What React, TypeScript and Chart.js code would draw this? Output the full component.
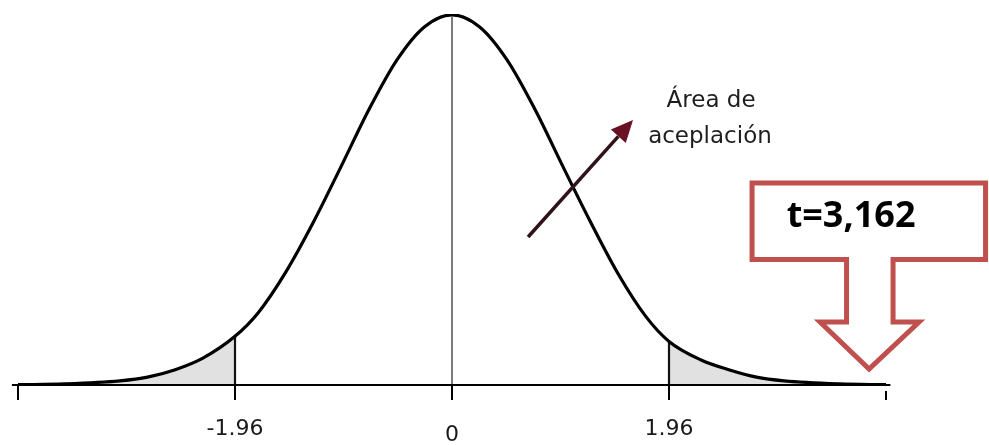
import React, { useEffect, useRef } from "react";
import { Chart, registerables } from "chart.js";

Chart.register(...registerables);

// Normal-like curve (x in z units, y as density)
const CURVE_X = [-3.92, -3.5, -3.0, -2.75, -2.5, -2.25, -1.96, -1.75, -1.5, -1.25, -1.0, -0.75, -0.5, -0.25, 0, 0.25, 0.5, 0.75, 1.0, 1.25, 1.5, 1.75, 1.96, 2.25, 2.5, 2.75, 3.0, 3.5, 3.92];
const CURVE_Y = [0.0003, 0.0012, 0.0045, 0.0085, 0.0165, 0.029, 0.0525, 0.078, 0.122, 0.176, 0.236, 0.297, 0.35, 0.386, 0.399, 0.386, 0.35, 0.297, 0.236, 0.176, 0.12, 0.074, 0.047, 0.027, 0.0165, 0.0085, 0.0045, 0.0012, 0.0003];

// Critical values and the height of their vertical markers
const CRIT_X = [-1.96, 0, 1.96];
const CRIT_Y = [0.0525, 0.397, 0.047];

// Axis ticks
const TICK_VALUES = [-3.92, -1.96, 0, 1.96, 3.92];
const TICK_LABELS = ["", "-1.96", "0", "1.96", ""];

// Annotations
const AREA_LABEL = ["Área de", "aceplación"];
const T_LABEL = "t=3,162";

const X_MIN = -3.92;
const X_MAX = 3.92;
const Y_MAX = 0.4;

const overlayPlugin = {
  id: "overlay",
  afterDraw(chart: any) {
    const ctx = chart.ctx;
    const xs = chart.scales.x;
    const ys = chart.scales.y;
    const px = (v: number) => xs.getPixelForValue(v);
    const py = (v: number) => ys.getPixelForValue(v);
    const y0 = py(0);

    ctx.save();
    // axis line
    ctx.strokeStyle = "#000";
    ctx.lineWidth = 2;
    ctx.beginPath();
    ctx.moveTo(px(-3.975), y0);
    ctx.lineTo(px(3.96), y0);
    ctx.stroke();

    // ticks + labels
    ctx.font = '22px "DejaVu Sans"';
    ctx.fillStyle = "#1a1a1a";
    ctx.textAlign = "center";
    ctx.textBaseline = "middle";
    TICK_VALUES.forEach((v, i) => {
      const x = Math.round(px(v));
      const isEnd = i === TICK_VALUES.length - 1;
      ctx.lineWidth = 2;
      ctx.beginPath();
      ctx.moveTo(x, isEnd ? y0 + 6 : y0 - 1);
      ctx.lineTo(x, y0 + 15);
      ctx.stroke();
      if (TICK_LABELS[i]) ctx.fillText(TICK_LABELS[i], x, y0 + (v === 0 ? 50 : 44));
    });

    // arrow "Área de aceplación"
    const tx = px(0.687), ty = py(0.1596);
    const hx = px(1.635), hy = py(0.2858);
    const ang = Math.atan2(hy - ty, hx - tx);
    const hl = 22, hw = 10;
    const bx = hx - hl * Math.cos(ang), by = hy - hl * Math.sin(ang);
    ctx.strokeStyle = "#2e1418";
    ctx.lineWidth = 3.5;
    ctx.beginPath();
    ctx.moveTo(tx, ty);
    ctx.lineTo(bx, by);
    ctx.stroke();
    ctx.fillStyle = "#6a1024";
    ctx.beginPath();
    ctx.moveTo(hx, hy);
    ctx.lineTo(bx + hw * Math.sin(ang), by - hw * Math.cos(ang));
    ctx.lineTo(bx - hw * Math.sin(ang), by + hw * Math.cos(ang));
    ctx.closePath();
    ctx.fill();

    ctx.font = '23px "DejaVu Sans"';
    ctx.fillStyle = "#1e1e1e";
    ctx.textBaseline = "alphabetic";
    ctx.fillText(AREA_LABEL[0], px(2.34), py(0.2998));
    ctx.fillText(AREA_LABEL[1], px(2.33), py(0.261));

    // callout
    const cx = px(3.767), cy = py(0.0173);
    const L = -117, T = -186, R = 116.5, B = -109.5, SL = -22.5, SR = 24, SB = -47, HL = -49, HR = 50;
    ctx.beginPath();
    ctx.moveTo(cx + SL, cy + B);
    ctx.lineTo(cx + L, cy + B);
    ctx.lineTo(cx + L, cy + T);
    ctx.lineTo(cx + R, cy + T);
    ctx.lineTo(cx + R, cy + B);
    ctx.lineTo(cx + SR, cy + B);
    ctx.lineTo(cx + SR, cy + SB);
    ctx.lineTo(cx + HR, cy + SB);
    ctx.lineTo(cx, cy);
    ctx.lineTo(cx + HL, cy + SB);
    ctx.lineTo(cx + SL, cy + SB);
    ctx.closePath();
    ctx.fillStyle = "#ffffff";
    ctx.fill();
    ctx.strokeStyle = "#c0504d";
    ctx.lineWidth = 5;
    ctx.lineJoin = "miter";
    ctx.stroke();

    ctx.font = 'bold 36px "Open Sans"';
    ctx.fillStyle = "#000";
    ctx.textAlign = "center";
    ctx.textBaseline = "middle";
    ctx.fillText(T_LABEL, cx - 18, cy - 152);
    ctx.restore();
  },
};

export default function App() {
  const ref = useRef<HTMLCanvasElement | null>(null);

  useEffect(() => {
    if (!ref.current) return;
    const curve = CURVE_X.map((x, i) => ({ x, y: CURVE_Y[i] }));
    const leftTail = curve.filter((p) => p.x <= CRIT_X[0]);
    const rightTail = curve.filter((p) => p.x >= CRIT_X[2]);
    const critSets = CRIT_X.map((x, i) => ({
      type: "line" as const,
      data: [
        { x, y: 0 },
        { x, y: CRIT_Y[i] },
      ],
      borderColor: i === 1 ? "#333" : "#111",
      borderWidth: i === 1 ? 1.3 : 2.2,
      pointRadius: 0,
      fill: false,
      order: 1,
    }));

    const chart = new Chart(ref.current, {
      type: "line",
      data: {
        datasets: [
          {
            data: curve,
            borderColor: "#000",
            borderWidth: 3.2,
            pointRadius: 0,
            cubicInterpolationMode: "monotone",
            fill: false,
            order: 0,
          },
          ...critSets,
          {
            data: leftTail,
            borderWidth: 0,
            borderColor: "rgba(0,0,0,0)",
            backgroundColor: "rgba(200,200,200,0.55)",
            pointRadius: 0,
            cubicInterpolationMode: "monotone",
            fill: "origin",
            order: 2,
          },
          {
            data: rightTail,
            borderWidth: 0,
            borderColor: "rgba(0,0,0,0)",
            backgroundColor: "rgba(200,200,200,0.55)",
            pointRadius: 0,
            cubicInterpolationMode: "monotone",
            fill: "origin",
            order: 2,
          },
        ] as any,
      },
      options: {
        animation: false,
        responsive: false,
        devicePixelRatio: 1,
        layout: { padding: { left: 18, right: 103, top: 14, bottom: 60 } },
        plugins: { legend: { display: false }, tooltip: { enabled: false } },
        scales: {
          x: { type: "linear", min: X_MIN, max: X_MAX, display: false },
          y: { type: "linear", min: 0, max: Y_MAX, display: false },
        },
      },
      plugins: [overlayPlugin],
    });
    return () => chart.destroy();
  }, []);

  return (
    <div style={{ position: "absolute", left: 0, top: 0, width: 989, height: 445, background: "#fff" }}>
      <canvas ref={ref} width={989} height={445} style={{ display: "block" }} />
    </div>
  );
}
